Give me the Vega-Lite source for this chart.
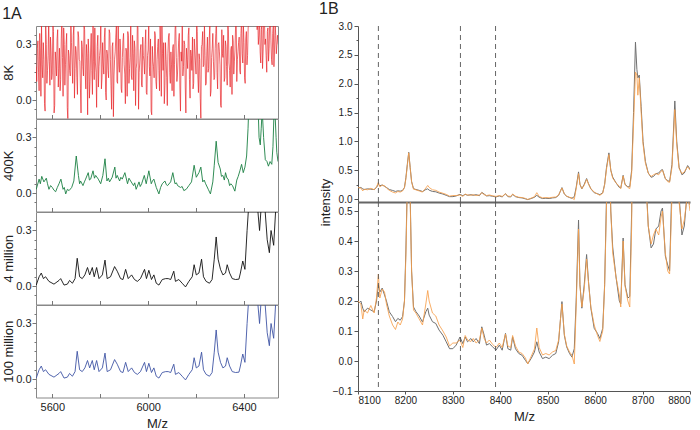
{
  "$schema": "https://vega.github.io/schema/vega-lite/v6.json",
  "padding": {"left": 2, "top": 1, "right": 0, "bottom": 0},
  "config": {
    "font": "Liberation Sans",
    "view": {"stroke": null},
    "axis": {"grid": false, "labelColor": "#222", "titleColor": "#222", "titleFontWeight": "normal", "titleFontSize": 13, "labelOverlap": false},
    "title": {"fontSize": 16, "fontWeight": "normal", "anchor": "start", "color": "#222", "frame": "bounds", "offset": 0}
  },
  "datasets": {
    "k8": [
      {"x":5533,"y":0.18},{"x":5535,"y":0.10},{"x":5540,"y":0.32},{"x":5545,"y":0.05},{"x":5550,"y":0.27},{"x":5555,"y":0.41},{"x":5560,"y":0.12},{"x":5565,"y":0.22},{"x":5570,"y":-0.06},{"x":5575,"y":0.30},{"x":5580,"y":0.16},
      {"x":5585,"y":0.43},{"x":5590,"y":0.08},{"x":5595,"y":0.26},{"x":5600,"y":0.14},{"x":5605,"y":0.37},{"x":5610,"y":-0.03},{"x":5615,"y":0.21},{"x":5620,"y":0.33},{"x":5625,"y":0.07},{"x":5630,"y":0.28},
      {"x":5635,"y":0.11},{"x":5640,"y":0.45},{"x":5645,"y":0.02},{"x":5650,"y":0.30},{"x":5655,"y":0.19},{"x":5660,"y":0.36},{"x":5665,"y":-0.11},{"x":5670,"y":0.24},{"x":5675,"y":0.13},{"x":5680,"y":0.31},
      {"x":5685,"y":0.09},{"x":5690,"y":0.40},{"x":5695,"y":0.17},{"x":5700,"y":0.26},{"x":5705,"y":0.03},{"x":5710,"y":0.34},{"x":5715,"y":0.21},{"x":5720,"y":-0.07},{"x":5725,"y":0.29},{"x":5730,"y":0.13},
      {"x":5735,"y":0.38},{"x":5740,"y":0.06},{"x":5745,"y":0.23},{"x":5750,"y":0.33},{"x":5755,"y":0.01},{"x":5760,"y":0.27},{"x":5765,"y":0.16},{"x":5770,"y":0.44},{"x":5775,"y":0.11},{"x":5780,"y":0.20},
      {"x":5785,"y":-0.04},{"x":5790,"y":0.35},{"x":5795,"y":0.18},{"x":5800,"y":0.28},{"x":5805,"y":0.06},{"x":5810,"y":0.31},{"x":5815,"y":0.14},{"x":5820,"y":0.39},{"x":5825,"y":0.00},{"x":5830,"y":0.25},
      {"x":5835,"y":0.12},{"x":5840,"y":0.36},{"x":5845,"y":0.08},{"x":5850,"y":0.29},{"x":5855,"y":-0.09},{"x":5860,"y":0.22},{"x":5865,"y":0.34},{"x":5870,"y":0.10},{"x":5875,"y":0.42},{"x":5880,"y":0.15},
      {"x":5885,"y":0.27},{"x":5890,"y":0.04},{"x":5895,"y":0.32},{"x":5900,"y":0.19},{"x":5905,"y":-0.02},{"x":5910,"y":0.26},{"x":5915,"y":0.37},{"x":5920,"y":0.09},{"x":5925,"y":0.23},{"x":5930,"y":0.13},
      {"x":5935,"y":0.35},{"x":5940,"y":0.05},{"x":5945,"y":0.28},{"x":5950,"y":0.17},{"x":5955,"y":0.41},{"x":5960,"y":-0.05},{"x":5965,"y":0.20},{"x":5970,"y":0.30},{"x":5975,"y":0.07},{"x":5980,"y":0.24},
      {"x":5985,"y":0.14},{"x":5990,"y":0.38},{"x":5995,"y":0.03},{"x":6000,"y":0.27},{"x":6005,"y":0.18},{"x":6010,"y":0.33},{"x":6015,"y":-0.08},{"x":6020,"y":0.21},{"x":6025,"y":0.12},{"x":6030,"y":0.35},
      {"x":6035,"y":0.06},{"x":6040,"y":0.29},{"x":6045,"y":0.16},{"x":6050,"y":0.40},{"x":6055,"y":0.02},{"x":6060,"y":0.25},{"x":6065,"y":0.31},{"x":6070,"y":0.08},{"x":6075,"y":0.22},{"x":6080,"y":-0.03},
      {"x":6085,"y":0.34},{"x":6090,"y":0.15},{"x":6095,"y":0.26},{"x":6100,"y":0.05},{"x":6105,"y":0.30},{"x":6110,"y":0.19},{"x":6115,"y":0.43},{"x":6120,"y":0.10},{"x":6125,"y":0.23},{"x":6130,"y":0.36},
      {"x":6135,"y":-0.06},{"x":6140,"y":0.21},{"x":6145,"y":0.13},{"x":6150,"y":0.32},{"x":6155,"y":0.07},{"x":6160,"y":0.28},{"x":6165,"y":0.17},{"x":6170,"y":0.39},{"x":6175,"y":0.01},{"x":6180,"y":0.24},
      {"x":6185,"y":0.34},{"x":6190,"y":0.09},{"x":6195,"y":0.27},{"x":6200,"y":0.14},{"x":6205,"y":0.37},{"x":6210,"y":0.04},{"x":6215,"y":0.22},{"x":6220,"y":-0.10},{"x":6225,"y":0.30},{"x":6230,"y":0.18},
      {"x":6235,"y":0.41},{"x":6240,"y":0.08},{"x":6245,"y":0.26},{"x":6250,"y":0.15},{"x":6255,"y":0.33},{"x":6260,"y":0.02},{"x":6265,"y":0.23},{"x":6270,"y":0.36},{"x":6275,"y":0.11},{"x":6280,"y":0.28},
      {"x":6285,"y":0.45},{"x":6290,"y":0.06},{"x":6295,"y":0.31},{"x":6300,"y":0.19},{"x":6305,"y":-0.04},{"x":6310,"y":0.25},{"x":6315,"y":0.35},{"x":6320,"y":0.12},{"x":6325,"y":0.29},{"x":6330,"y":0.08},
      {"x":6335,"y":0.38},{"x":6340,"y":0.16},{"x":6345,"y":0.27},{"x":6350,"y":0.03},{"x":6355,"y":0.32},{"x":6360,"y":0.21},{"x":6365,"y":0.40},{"x":6370,"y":0.10},{"x":6375,"y":0.26},{"x":6380,"y":0.34},
      {"x":6385,"y":0.14},{"x":6390,"y":0.44},{"x":6395,"y":0.20},{"x":6400,"y":0.31},{"x":6405,"y":0.09},{"x":6410,"y":0.37},{"x":6415,"y":0.24},{"x":6420,"y":0.42},{"x":6425,"y":0.55},{"x":6430,"y":0.62},
      {"x":6435,"y":0.58},{"x":6440,"y":0.66},{"x":6445,"y":0.60},{"x":6450,"y":0.52},{"x":6455,"y":0.38},{"x":6460,"y":0.30},{"x":6465,"y":0.45},{"x":6470,"y":0.20},{"x":6475,"y":0.41},{"x":6480,"y":0.27},
      {"x":6485,"y":0.48},{"x":6490,"y":0.33},{"x":6495,"y":0.15},{"x":6500,"y":0.39},{"x":6505,"y":0.28},{"x":6510,"y":0.46},{"x":6515,"y":0.22},{"x":6520,"y":0.36},{"x":6525,"y":0.18},{"x":6530,"y":0.42},
      {"x":6535,"y":0.25},{"x":6540,"y":0.35},{"x":6543,"y":0.30},
      {"x":5537.5,"y":0.28},{"x":5542.5,"y":0.15},{"x":5547.5,"y":0.36},{"x":5552.5,"y":0.02},{"x":5557.5,"y":0.19},{"x":5562.5,"y":0.31},{"x":5567.5,"y":-0.02},{"x":5572.5,"y":0.40},{"x":5577.5,"y":0.09},{"x":5582.5,"y":0.24},
      {"x":5587.5,"y":0.21},{"x":5592.5,"y":0.34},{"x":5597.5,"y":0.11},{"x":5602.5,"y":0.42},{"x":5607.5,"y":-0.07},{"x":5612.5,"y":0.26},{"x":5617.5,"y":0.13},{"x":5622.5,"y":0.38},{"x":5627.5,"y":0.17},{"x":5632.5,"y":0.05},
      {"x":5637.5,"y":0.33},{"x":5642.5,"y":0.23},{"x":5647.5,"y":0.39},{"x":5652.5,"y":0.08},{"x":5657.5,"y":0.30},{"x":5662.5,"y":-0.04},{"x":5667.5,"y":0.27},{"x":5672.5,"y":0.16},{"x":5677.5,"y":0.44},{"x":5682.5,"y":0.20},
      {"x":5687.5,"y":0.35},{"x":5692.5,"y":0.01},{"x":5697.5,"y":0.29},{"x":5702.5,"y":0.12},{"x":5707.5,"y":0.37},{"x":5712.5,"y":0.22},{"x":5717.5,"y":0.06},{"x":5722.5,"y":0.32},{"x":5727.5,"y":0.18},{"x":5732.5,"y":0.41},
      {"x":5737.5,"y":0.14},{"x":5742.5,"y":0.30},{"x":5747.5,"y":-0.08},{"x":5752.5,"y":0.25},{"x":5757.5,"y":0.10},{"x":5762.5,"y":0.36},{"x":5767.5,"y":0.03},{"x":5772.5,"y":0.21},{"x":5777.5,"y":0.39},{"x":5782.5,"y":0.15},
      {"x":5787.5,"y":0.29},{"x":5792.5,"y":0.07},{"x":5797.5,"y":0.24},{"x":5802.5,"y":0.43},{"x":5807.5,"y":0.12},{"x":5812.5,"y":0.20},{"x":5817.5,"y":0.34},{"x":5822.5,"y":0.04},{"x":5827.5,"y":0.27},{"x":5832.5,"y":0.16},
      {"x":5837.5,"y":0.38},{"x":5842.5,"y":0.22},{"x":5847.5,"y":-0.05},{"x":5852.5,"y":0.31},{"x":5857.5,"y":0.13},{"x":5862.5,"y":0.26},{"x":5867.5,"y":0.40},{"x":5872.5,"y":0.09},{"x":5877.5,"y":0.19},{"x":5882.5,"y":0.33},
      {"x":5887.5,"y":0.06},{"x":5892.5,"y":0.23},{"x":5897.5,"y":0.36},{"x":5902.5,"y":0.14},{"x":5907.5,"y":0.28},{"x":5912.5,"y":0.02},{"x":5917.5,"y":0.35},{"x":5922.5,"y":0.17},{"x":5927.5,"y":0.42},{"x":5932.5,"y":0.11},
      {"x":5937.5,"y":0.25},{"x":5942.5,"y":0.32},{"x":5947.5,"y":-0.03},{"x":5952.5,"y":0.20},{"x":5957.5,"y":0.39},{"x":5962.5,"y":0.15},{"x":5967.5,"y":0.27},{"x":5972.5,"y":0.08},{"x":5977.5,"y":0.34},{"x":5982.5,"y":0.21},
      {"x":5987.5,"y":0.30},{"x":5992.5,"y":0.04},{"x":5997.5,"y":0.24},{"x":6002.5,"y":0.41},{"x":6007.5,"y":0.13},{"x":6012.5,"y":-0.06},{"x":6017.5,"y":0.29},{"x":6022.5,"y":0.18},{"x":6027.5,"y":0.37},{"x":6032.5,"y":0.10},
      {"x":6037.5,"y":0.22},{"x":6042.5,"y":0.33},{"x":6047.5,"y":0.05},{"x":6052.5,"y":0.27},{"x":6057.5,"y":0.40},{"x":6062.5,"y":0.16},{"x":6067.5,"y":-0.02},{"x":6072.5,"y":0.31},{"x":6077.5,"y":0.12},{"x":6082.5,"y":0.25},
      {"x":6087.5,"y":0.36},{"x":6092.5,"y":0.09},{"x":6097.5,"y":0.19},{"x":6102.5,"y":0.28},{"x":6107.5,"y":0.02},{"x":6112.5,"y":0.38},{"x":6117.5,"y":0.23},{"x":6122.5,"y":0.14},{"x":6127.5,"y":0.32},{"x":6132.5,"y":0.07},
      {"x":6137.5,"y":0.26},{"x":6142.5,"y":0.41},{"x":6147.5,"y":0.18},{"x":6152.5,"y":0.30},{"x":6157.5,"y":-0.07},{"x":6162.5,"y":0.22},{"x":6167.5,"y":0.35},{"x":6172.5,"y":0.11},{"x":6177.5,"y":0.27},{"x":6182.5,"y":0.16},
      {"x":6187.5,"y":0.06},{"x":6192.5,"y":0.33},{"x":6197.5,"y":0.20},{"x":6202.5,"y":0.43},{"x":6207.5,"y":0.13},{"x":6212.5,"y":0.25},{"x":6217.5,"y":0.01},{"x":6222.5,"y":0.29},{"x":6227.5,"y":0.37},{"x":6232.5,"y":0.19},
      {"x":6237.5,"y":0.24},{"x":6242.5,"y":0.09},{"x":6247.5,"y":0.34},{"x":6252.5,"y":0.17},{"x":6257.5,"y":0.40},{"x":6262.5,"y":0.05},{"x":6267.5,"y":0.28},{"x":6272.5,"y":0.21},{"x":6277.5,"y":0.12},{"x":6282.5,"y":0.36},
      {"x":6287.5,"y":0.15},{"x":6292.5,"y":0.30},{"x":6297.5,"y":0.26},{"x":6302.5,"y":-0.03},{"x":6307.5,"y":0.38},{"x":6312.5,"y":0.23},{"x":6317.5,"y":0.10},{"x":6322.5,"y":0.32},{"x":6327.5,"y":0.18},{"x":6332.5,"y":0.42},
      {"x":6337.5,"y":0.20},{"x":6342.5,"y":0.07},{"x":6347.5,"y":0.29},{"x":6352.5,"y":0.35},{"x":6357.5,"y":0.14},{"x":6362.5,"y":0.27},{"x":6367.5,"y":0.44},{"x":6372.5,"y":0.22},{"x":6377.5,"y":0.31},{"x":6382.5,"y":0.16},
      {"x":6387.5,"y":0.36},{"x":6392.5,"y":0.25},{"x":6397.5,"y":0.41},{"x":6402.5,"y":0.12},{"x":6407.5,"y":0.33},{"x":6412.5,"y":0.19},{"x":6417.5,"y":0.39},{"x":6422.5,"y":0.48},{"x":6427.5,"y":0.50},{"x":6432.5,"y":0.60},
      {"x":6437.5,"y":0.64},{"x":6442.5,"y":0.56},{"x":6447.5,"y":0.62},{"x":6452.5,"y":0.55},{"x":6457.5,"y":0.45},{"x":6462.5,"y":0.35},{"x":6467.5,"y":0.26},{"x":6472.5,"y":0.38},{"x":6477.5,"y":0.17},{"x":6482.5,"y":0.44},
      {"x":6487.5,"y":0.30},{"x":6492.5,"y":0.24},{"x":6497.5,"y":0.37},{"x":6502.5,"y":0.21},{"x":6507.5,"y":0.43},{"x":6512.5,"y":0.32},{"x":6517.5,"y":0.19},{"x":6522.5,"y":0.40},{"x":6527.5,"y":0.27},{"x":6532.5,"y":0.35},
      {"x":6537.5,"y":0.30}
    ],
    "k400": [
      {"x":5533,"y":0.02},{"x":5545,"y":0.075},{"x":5550,"y":0.05},{"x":5556,"y":0.09},{"x":5565,"y":0.06},{"x":5575,"y":0.08},{"x":5580,"y":0.05},{"x":5586,"y":0.02},{"x":5593,"y":0.04},{"x":5600,"y":0.03},
      {"x":5607,"y":0.015},{"x":5614,"y":0.007},{"x":5621,"y":0.03},{"x":5628,"y":0.05},{"x":5636,"y":0.075},{"x":5645,"y":0.02},{"x":5650,"y":0.03},{"x":5656,"y":-0.005},{"x":5663,"y":0.02},{"x":5670,"y":0.013},
      {"x":5681,"y":0.03},{"x":5690,"y":0.065},{"x":5700,"y":0.2},{"x":5709,"y":0.095},{"x":5714,"y":0.05},{"x":5718,"y":0.065},{"x":5728,"y":0.04},{"x":5734,"y":0.06},{"x":5739,"y":0.075},{"x":5750,"y":0.11},
      {"x":5755,"y":0.07},{"x":5760,"y":0.075},{"x":5770,"y":0.12},{"x":5776,"y":0.08},{"x":5781,"y":0.095},{"x":5792,"y":0.075},{"x":5802,"y":0.05},{"x":5811,"y":0.095},{"x":5820,"y":0.185},{"x":5828,"y":0.065},
      {"x":5834,"y":0.08},{"x":5839,"y":0.06},{"x":5850,"y":0.085},{"x":5861,"y":0.14},{"x":5866,"y":0.08},{"x":5871,"y":0.095},{"x":5881,"y":0.065},{"x":5886,"y":0.085},{"x":5892,"y":0.075},{"x":5903,"y":0.11},
      {"x":5914,"y":0.05},{"x":5920,"y":0.08},{"x":5927,"y":0.065},{"x":5939,"y":0.04},{"x":5944,"y":0.055},{"x":5950,"y":0.02},{"x":5962,"y":0.06},{"x":5967,"y":0.035},{"x":5973,"y":0.05},{"x":5984,"y":0.095},
      {"x":5992,"y":0.05},{"x":6003,"y":0.12},{"x":6013,"y":0.05},{"x":6018,"y":0.065},{"x":6024,"y":0.075},{"x":6034,"y":0.03},{"x":6045,"y":-0.005},{"x":6052,"y":0.03},{"x":6059,"y":0.05},{"x":6070,"y":0.065},
      {"x":6076,"y":0.045},{"x":6081,"y":0.04},{"x":6094,"y":0.06},{"x":6103,"y":0.11},{"x":6112,"y":0.05},{"x":6118,"y":0.055},{"x":6123,"y":0.04},{"x":6135,"y":0.03},{"x":6142,"y":0.035},{"x":6149,"y":0.013},
      {"x":6159,"y":0.02},{"x":6170,"y":0.04},{"x":6181,"y":0.06},{"x":6192,"y":0.15},{"x":6201,"y":0.085},{"x":6212,"y":0.11},{"x":6220,"y":0.14},{"x":6228,"y":0.06},{"x":6234,"y":0.07},{"x":6240,"y":0.05},
      {"x":6251,"y":0.02},{"x":6260,"y":-0.005},{"x":6270,"y":0.06},{"x":6276,"y":0.15},{"x":6284,"y":0.28},{"x":6292,"y":0.165},{"x":6301,"y":0.13},{"x":6306,"y":0.09},{"x":6312,"y":0.095},{"x":6318,"y":0.07},
      {"x":6323,"y":0.11},{"x":6329,"y":0.08},{"x":6334,"y":0.075},{"x":6340,"y":0.04},{"x":6345,"y":0.05},{"x":6352,"y":0.04},{"x":6362,"y":0.01},{"x":6370,"y":0.07},{"x":6376,"y":0.09},{"x":6383,"y":0.12},
      {"x":6390,"y":0.155},{"x":6397,"y":0.11},{"x":6404,"y":0.14},{"x":6411,"y":0.2},{"x":6417,"y":0.35},{"x":6421,"y":0.5},{"x":6440,"y":0.6},{"x":6458,"y":0.5},{"x":6463,"y":0.3},{"x":6468,"y":0.26},
      {"x":6472,"y":0.35},{"x":6476,"y":0.45},{"x":6482,"y":0.3},{"x":6489,"y":0.18},{"x":6496,"y":0.17},{"x":6502,"y":0.145},{"x":6509,"y":0.17},{"x":6516,"y":0.155},{"x":6521,"y":0.25},{"x":6525,"y":0.42},
      {"x":6530,"y":0.42},{"x":6534,"y":0.3},{"x":6537,"y":0.22},{"x":6542,"y":0.17}
    ],
    "m4": [
      {"x":5533,"y":0.005},{"x":5545,"y":0.05},{"x":5554,"y":0.07},{"x":5563,"y":0.04},{"x":5572,"y":0.05},{"x":5586,"y":0.025},{"x":5607,"y":0.01},{"x":5628,"y":0.03},{"x":5635,"y":0.04},{"x":5649,"y":0.005},
      {"x":5663,"y":0.01},{"x":5672,"y":0.03},{"x":5684,"y":0.015},{"x":5695,"y":0.04},{"x":5704,"y":0.15},{"x":5714,"y":0.05},{"x":5725,"y":0.04},{"x":5736,"y":0.06},{"x":5747,"y":0.1},{"x":5756,"y":0.06},
      {"x":5767,"y":0.1},{"x":5775,"y":0.05},{"x":5785,"y":0.1},{"x":5795,"y":0.04},{"x":5809,"y":0.06},{"x":5820,"y":0.14},{"x":5829,"y":0.04},{"x":5843,"y":0.05},{"x":5860,"y":0.105},{"x":5871,"y":0.08},
      {"x":5885,"y":0.04},{"x":5895,"y":0.035},{"x":5906,"y":0.09},{"x":5917,"y":0.04},{"x":5931,"y":0.06},{"x":5943,"y":0.035},{"x":5955,"y":0.025},{"x":5968,"y":0.04},{"x":5985,"y":0.09},{"x":5993,"y":0.04},
      {"x":6003,"y":0.085},{"x":6014,"y":0.035},{"x":6024,"y":0.06},{"x":6034,"y":0.015},{"x":6045,"y":0.005},{"x":6059,"y":0.035},{"x":6073,"y":0.04},{"x":6084,"y":0.04},{"x":6094,"y":0.035},{"x":6107,"y":0.08},
      {"x":6114,"y":0.025},{"x":6128,"y":0.035},{"x":6142,"y":0.015},{"x":6156,"y":-0.005},{"x":6170,"y":0.025},{"x":6184,"y":0.05},{"x":6192,"y":0.115},{"x":6201,"y":0.06},{"x":6212,"y":0.07},{"x":6223,"y":0.145},
      {"x":6231,"y":0.05},{"x":6242,"y":0.025},{"x":6256,"y":0.015},{"x":6267,"y":0.035},{"x":6276,"y":0.145},{"x":6284,"y":0.265},{"x":6292,"y":0.145},{"x":6302,"y":0.09},{"x":6312,"y":0.06},{"x":6323,"y":0.07},
      {"x":6330,"y":0.115},{"x":6340,"y":0.07},{"x":6351,"y":0.04},{"x":6365,"y":0.035},{"x":6379,"y":0.037},{"x":6385,"y":0.07},{"x":6395,"y":0.135},{"x":6404,"y":0.09},{"x":6413,"y":0.3},{"x":6423,"y":0.5},
      {"x":6441,"y":0.6},{"x":6455,"y":0.45},{"x":6465,"y":0.3},{"x":6473,"y":0.45},{"x":6483,"y":0.5},{"x":6497,"y":0.25},{"x":6506,"y":0.18},{"x":6513,"y":0.3},{"x":6524,"y":0.22},{"x":6534,"y":0.45},{"x":6543,"y":0.5}
    ],
    "ms": [
      {"x":8100,"g":0.19,"o":0.2},{"x":8106,"g":0.2,"o":0.19},{"x":8110,"g":0.176,"o":0.14},{"x":8113,"g":0.164,"o":0.17},{"x":8120,"g":0.176,"o":0.16},{"x":8127,"g":0.17,"o":0.185},{"x":8134,"g":0.164,"o":0.16},{"x":8139,"g":0.2,"o":0.21},
      {"x":8143,"g":0.254,"o":0.29},{"x":8146,"g":0.23,"o":0.21},{"x":8151,"g":0.243,"o":0.24},{"x":8156,"g":0.22,"o":0.23},{"x":8160,"g":0.2,"o":0.19},{"x":8166,"g":0.164,"o":0.15},{"x":8173,"g":0.148,"o":0.12},{"x":8179,"g":0.131,"o":0.105},
      {"x":8184,"g":0.142,"o":0.13},{"x":8189,"g":0.136,"o":0.12},{"x":8194,"g":0.148,"o":0.14},{"x":8198,"g":0.2,"o":0.2},{"x":8201,"g":0.37,"o":0.35},{"x":8204,"g":0.6,"o":0.58},{"x":8207,"g":0.81,"o":0.8},{"x":8210,"g":0.55,"o":0.54},
      {"x":8213,"g":0.3,"o":0.3},{"x":8217,"g":0.18,"o":0.17},{"x":8222,"g":0.165,"o":0.16},{"x":8229,"g":0.15,"o":0.14},{"x":8236,"g":0.13,"o":0.12},{"x":8243,"g":0.164,"o":0.19},{"x":8247,"g":0.176,"o":0.235},{"x":8250,"g":0.153,"o":0.2},
      {"x":8257,"g":0.131,"o":0.16},{"x":8264,"g":0.125,"o":0.15},{"x":8271,"g":0.103,"o":0.12},{"x":8279,"g":0.086,"o":0.1},{"x":8286,"g":0.064,"o":0.08},{"x":8293,"g":0.041,"o":0.05},{"x":8300,"g":0.041,"o":0.06},{"x":8307,"g":0.053,"o":0.06},
      {"x":8315,"g":0.08,"o":0.07},{"x":8321,"g":0.058,"o":0.045},{"x":8326,"g":0.08,"o":0.085},{"x":8331,"g":0.064,"o":0.07},{"x":8338,"g":0.075,"o":0.065},{"x":8343,"g":0.064,"o":0.075},{"x":8349,"g":0.075,"o":0.06},{"x":8356,"g":0.058,"o":0.07},
      {"x":8361,"g":0.114,"o":0.11},{"x":8366,"g":0.086,"o":0.075},{"x":8371,"g":0.053,"o":0.06},{"x":8377,"g":0.058,"o":0.07},{"x":8384,"g":0.047,"o":0.055},{"x":8391,"g":0.036,"o":0.045},{"x":8398,"g":0.053,"o":0.06},{"x":8404,"g":0.036,"o":0.045},
      {"x":8411,"g":0.092,"o":0.09},{"x":8416,"g":0.041,"o":0.05},{"x":8422,"g":0.036,"o":0.045},{"x":8426,"g":0.08,"o":0.085},{"x":8432,"g":0.041,"o":0.05},{"x":8439,"g":0.025,"o":0.03},{"x":8446,"g":0.019,"o":0.025},{"x":8453,"g":0.002,"o":0.01},
      {"x":8458,"g":-0.009,"o":-0.01},{"x":8465,"g":0.008,"o":0.015},{"x":8472,"g":0.03,"o":0.04},{"x":8477,"g":0.064,"o":0.11},{"x":8482,"g":0.03,"o":0.045},{"x":8489,"g":0.008,"o":0.02},{"x":8496,"g":0.013,"o":0.025},{"x":8503,"g":0.008,"o":0.02},
      {"x":8510,"g":0.019,"o":0.03},{"x":8517,"g":0.025,"o":0.035},{"x":8523,"g":0.064,"o":0.07},{"x":8527,"g":0.142,"o":0.14},{"x":8530,"g":0.198,"o":0.19},{"x":8535,"g":0.086,"o":0.09},{"x":8540,"g":0.047,"o":0.05},{"x":8546,"g":0.025,"o":0.03},
      {"x":8551,"g":0.013,"o":0.02},{"x":8556,"g":0.041,"o":-0.01},{"x":8560,"g":0.2,"o":0.18},{"x":8565,"g":0.47,"o":0.44},{"x":8568,"g":0.254,"o":0.25},{"x":8572,"g":0.176,"o":0.18},{"x":8577,"g":0.254,"o":0.24},{"x":8582,"g":0.355,"o":0.34},
      {"x":8586,"g":0.265,"o":0.26},{"x":8591,"g":0.176,"o":0.18},{"x":8598,"g":0.109,"o":0.12},{"x":8605,"g":0.092,"o":0.085},{"x":8610,"g":0.075,"o":0.065},{"x":8616,"g":0.109,"o":0.1},{"x":8620,"g":0.254,"o":0.25},{"x":8624,"g":0.55,"o":0.52},
      {"x":8629,"g":0.8,"o":0.77},{"x":8633,"g":0.5,"o":0.5},{"x":8637,"g":0.38,"o":0.36},{"x":8644,"g":0.28,"o":0.28},{"x":8651,"g":0.2,"o":0.22},{"x":8654,"g":0.19,"o":0.18},{"x":8659,"g":0.41,"o":0.4},{"x":8663,"g":0.254,"o":0.25},
      {"x":8669,"g":0.21,"o":0.2},{"x":8673,"g":0.215,"o":0.18},{"x":8677,"g":0.5,"o":0.45},{"x":8681,"g":1.5,"o":1.3},{"x":8685,"g":2.72,"o":2.2},{"x":8688,"g":2.25,"o":2.15},{"x":8690,"g":2.1,"o":1.8},{"x":8693,"g":2.15,"o":2.1},
      {"x":8697,"g":1.6,"o":1.5},{"x":8701,"g":1.0,"o":0.95},{"x":8706,"g":0.65,"o":0.62},{"x":8712,"g":0.45,"o":0.45},{"x":8718,"g":0.377,"o":0.39},{"x":8723,"g":0.39,"o":0.42},{"x":8728,"g":0.44,"o":0.44},{"x":8734,"g":0.45,"o":0.42},
      {"x":8739,"g":0.5,"o":0.48},{"x":8742,"g":0.51,"o":0.5},{"x":8748,"g":0.35,"o":0.36},{"x":8753,"g":0.32,"o":0.3},{"x":8757,"g":0.3,"o":0.29},{"x":8762,"g":0.6,"o":0.55},{"x":8768,"g":1.7,"o":1.55},{"x":8772,"g":1.0,"o":0.95},
      {"x":8777,"g":0.55,"o":0.53},{"x":8783,"g":0.42,"o":0.44},{"x":8788,"g":0.45,"o":0.47},{"x":8795,"g":0.58,"o":0.56},{"x":8800,"g":0.52,"o":0.5}
    ],
    "dash": [{"x":8143},{"x":8316},{"x":8390}]
  },
  "spacing": 40,
  "hconcat": [
    {
      "title": {"text": "1A"},
      "spacing": 0,
      "bounds": "flush",
      "vconcat": [
        {
          "width": 242, "height": 92.5,
          "view": {"stroke": "#888"},
          "data": {"name": "k8"},
          "mark": {"type": "line", "color": "#e8262b", "strokeWidth": 0.7, "clip": true},
          "encoding": {
            "x": {"field": "x", "type": "quantitative", "scale": {"domain": [5532, 6542], "nice": false, "zero": false},
                  "axis": {"title": null, "labels": false, "domain": false, "values": [5600, 5800, 6000, 6200, 6400], "tickSize": -4, "tickColor": "#777"}},
            "y": {"field": "y", "type": "quantitative", "scale": {"domain": [-0.1, 0.4], "nice": false},
                  "axis": {"title": "8K", "domain": false, "labelOverlap": false, "values": [-0.05, 0, 0.05, 0.1, 0.15, 0.2, 0.25, 0.3, 0.35], "labelExpr": "abs(datum.value) < 0.001 || abs(datum.value - 0.3) < 0.001 ? format(datum.value, '.1f') : ''", "tickSize": {"condition": {"test": "abs(datum.value) < 0.001 || abs(datum.value - 0.3) < 0.001", "value": 4}, "value": 2}, "tickColor": "#777", "labelFontSize": 11, "labelPadding": 1, "titlePadding": 0}}
          }
        },
        {
          "width": 242, "height": 92.5,
          "view": {"stroke": "#888"},
          "data": {"name": "k400"},
          "mark": {"type": "line", "color": "#1b8043", "strokeWidth": 0.9, "clip": true},
          "encoding": {
            "x": {"field": "x", "type": "quantitative", "scale": {"domain": [5532, 6542], "nice": false, "zero": false},
                  "axis": {"title": null, "labels": false, "domain": false, "values": [5600, 5800, 6000, 6200, 6400], "tickSize": -4, "tickColor": "#777"}},
            "y": {"field": "y", "type": "quantitative", "scale": {"domain": [-0.1, 0.4], "nice": false},
                  "axis": {"title": "400K", "domain": false, "labelOverlap": false, "values": [-0.05, 0, 0.05, 0.1, 0.15, 0.2, 0.25, 0.3, 0.35], "labelExpr": "abs(datum.value) < 0.001 || abs(datum.value - 0.3) < 0.001 ? format(datum.value, '.1f') : ''", "tickSize": {"condition": {"test": "abs(datum.value) < 0.001 || abs(datum.value - 0.3) < 0.001", "value": 4}, "value": 2}, "tickColor": "#777", "labelFontSize": 11, "labelPadding": 1, "titlePadding": 0}}
          }
        },
        {
          "width": 242, "height": 92.5,
          "view": {"stroke": "#888"},
          "data": {"name": "m4"},
          "mark": {"type": "line", "color": "#111111", "strokeWidth": 0.9, "clip": true},
          "encoding": {
            "x": {"field": "x", "type": "quantitative", "scale": {"domain": [5532, 6542], "nice": false, "zero": false},
                  "axis": {"title": null, "labels": false, "domain": false, "values": [5600, 5800, 6000, 6200, 6400], "tickSize": -4, "tickColor": "#777"}},
            "y": {"field": "y", "type": "quantitative", "scale": {"domain": [-0.1, 0.4], "nice": false},
                  "axis": {"title": "4 million", "domain": false, "labelOverlap": false, "values": [-0.05, 0, 0.05, 0.1, 0.15, 0.2, 0.25, 0.3, 0.35], "labelExpr": "abs(datum.value) < 0.001 || abs(datum.value - 0.3) < 0.001 ? format(datum.value, '.1f') : ''", "tickSize": {"condition": {"test": "abs(datum.value) < 0.001 || abs(datum.value - 0.3) < 0.001", "value": 4}, "value": 2}, "tickColor": "#777", "labelFontSize": 11, "labelPadding": 1, "titlePadding": 0}}
          }
        },
        {
          "width": 242, "height": 92.5,
          "view": {"stroke": "#888"},
          "data": {"name": "m4"},
          "mark": {"type": "line", "color": "#3f55a5", "strokeWidth": 0.9, "clip": true},
          "encoding": {
            "x": {"field": "x", "type": "quantitative", "scale": {"domain": [5532, 6542], "nice": false, "zero": false},
                  "axis": {"title": "M/z", "domain": false, "labelOverlap": false, "values": [5600, 5800, 6000, 6200, 6400], "labelExpr": "datum.value % 400 == 0 ? datum.value : ''", "tickSize": -4, "tickColor": "#777", "labelFontSize": 11, "labelPadding": 8, "titlePadding": 5}},
            "y": {"field": "y", "type": "quantitative", "scale": {"domain": [-0.1, 0.4], "nice": false},
                  "axis": {"title": "100 million", "domain": false, "labelOverlap": false, "values": [-0.05, 0, 0.05, 0.1, 0.15, 0.2, 0.25, 0.3, 0.35], "labelExpr": "abs(datum.value) < 0.001 || abs(datum.value - 0.3) < 0.001 ? format(datum.value, '.1f') : ''", "tickSize": {"condition": {"test": "abs(datum.value) < 0.001 || abs(datum.value - 0.3) < 0.001", "value": 4}, "value": 2}, "tickColor": "#777", "labelFontSize": 11, "labelPadding": 1, "titlePadding": 0}}
          }
        }
      ]
    },
    {
      "title": {"text": "1B"},
      "spacing": 0,
      "bounds": "flush",
      "vconcat": [
        {
          "width": 332, "height": 176,
          "view": {"stroke": null},
          "layer": [
            {
              "data": {"name": "ms"},
              "transform": [{"fold": ["g", "o"], "as": ["s", "v"]}],
              "mark": {"type": "line", "strokeWidth": 1, "clip": true},
              "encoding": {
                "x": {"field": "x", "type": "quantitative", "scale": {"domain": [8100, 8800], "nice": false, "zero": false},
                      "axis": {"title": null, "labels": false, "ticks": false, "domainColor": "#666", "domainWidth": 2}},
                "y": {"field": "v", "type": "quantitative", "scale": {"domain": [-0.052, 3], "nice": false},
                      "axis": {"title": "intensity", "titleY": 176, "labelOverlap": false, "values": [0, 0.25, 0.5, 0.75, 1, 1.25, 1.5, 1.75, 2, 2.25, 2.5, 2.75, 3], "labelExpr": "abs(datum.value * 2 - round(datum.value * 2)) < 0.001 ? format(datum.value, '.1f') : ''", "tickSize": {"condition": {"test": "abs(datum.value * 2 - round(datum.value * 2)) < 0.001", "value": 4}, "value": 2}, "domainColor": "#555", "tickColor": "#555", "labelFontSize": 10, "labelPadding": 2, "titlePadding": 6}},
                "color": {"field": "s", "type": "nominal", "scale": {"domain": ["g", "o"], "range": ["#707070", "#f7a04c"]}, "legend": null},
                "opacity": {"field": "s", "type": "nominal", "scale": {"domain": ["g", "o"], "range": [1, 0.85]}, "legend": null}
              }
            },
            {
              "data": {"name": "dash"},
              "mark": {"type": "rule", "strokeDash": [5, 4], "color": "#555", "strokeWidth": 0.9},
              "encoding": {"x": {"field": "x", "type": "quantitative"}}
            }
          ]
        },
        {
          "width": 332, "height": 189,
          "view": {"stroke": null},
          "layer": [
            {
              "data": {"name": "ms"},
              "transform": [{"fold": ["g", "o"], "as": ["s", "v"]}],
              "mark": {"type": "line", "strokeWidth": 1, "clip": true},
              "encoding": {
                "x": {"field": "x", "type": "quantitative", "scale": {"domain": [8100, 8800], "nice": false, "zero": false},
                      "axis": {"title": "M/z", "labelOverlap": false, "values": [8100, 8150, 8200, 8250, 8300, 8350, 8400, 8450, 8500, 8550, 8600, 8650, 8700, 8750, 8800], "labelExpr": "datum.value % 100 == 0 ? datum.value : ''", "tickSize": {"condition": {"test": "datum.value % 100 == 0", "value": 3}, "value": 2}, "domainColor": "#555", "tickColor": "#555", "labelFontSize": 10, "labelPadding": 1, "titlePadding": 5}},
                "y": {"field": "v", "type": "quantitative", "scale": {"domain": [-0.1, 0.53], "nice": false},
                      "axis": {"title": null, "labelOverlap": false, "values": [-0.1, -0.05, 0, 0.05, 0.1, 0.15, 0.2, 0.25, 0.3, 0.35, 0.4, 0.45, 0.5], "labelExpr": "abs(datum.value * 10 - round(datum.value * 10)) < 0.001 ? format(datum.value, '.1f') : ''", "tickSize": {"condition": {"test": "abs(datum.value * 10 - round(datum.value * 10)) < 0.001", "value": 4}, "value": 2}, "domainColor": "#555", "tickColor": "#555", "labelFontSize": 10, "labelPadding": 2}},
                "color": {"field": "s", "type": "nominal", "scale": {"domain": ["g", "o"], "range": ["#707070", "#f7a04c"]}, "legend": null},
                "opacity": {"field": "s", "type": "nominal", "scale": {"domain": ["g", "o"], "range": [1, 0.85]}, "legend": null}
              }
            },
            {
              "data": {"name": "dash"},
              "mark": {"type": "rule", "strokeDash": [5, 4], "color": "#555", "strokeWidth": 0.9},
              "encoding": {"x": {"field": "x", "type": "quantitative"}}
            }
          ]
        }
      ]
    }
  ]
}
